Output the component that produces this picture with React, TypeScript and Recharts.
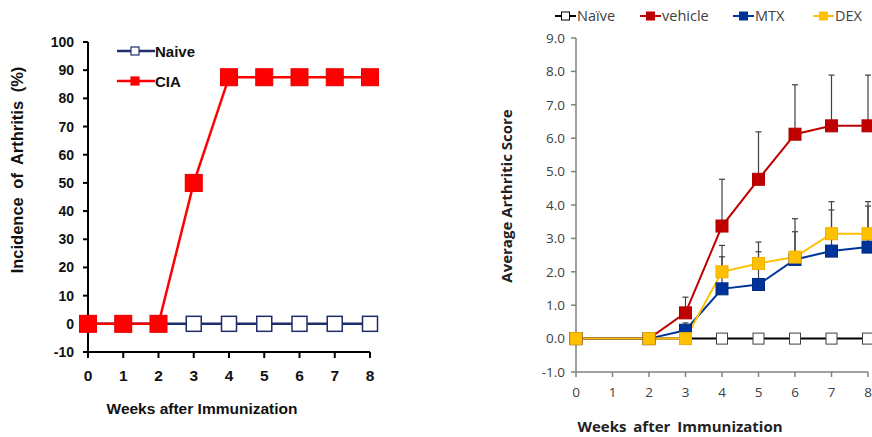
import React from "react";
import { LineChart, Line, XAxis, YAxis, ErrorBar, Legend, Label } from "recharts";

// left panel: incidence (%)
const weeks = [0, 1, 2, 3, 4, 5, 6, 7, 8];
const naiveIncidence = [0, 0, 0, 0, 0, 0, 0, 0, 0];
const ciaIncidence = [0, 0, 0, 50, 87.5, 87.5, 87.5, 87.5, 87.5];
const incidenceTicks = [-10, 0, 10, 20, 30, 40, 50, 60, 70, 80, 90, 100];

// right panel: average arthritic score (+ upper SEM)
const scoreWeeks = [0, 2, 3, 4, 5, 6, 7, 8];
const naiveScore = [0, 0, 0, 0, 0, 0, 0, 0];
const vehicleScore = [0, 0, 0.77, 3.37, 4.77, 6.12, 6.37, 6.37];
const vehicleSem = [0, 0, 0.47, 1.4, 1.42, 1.48, 1.52, 1.52];
const mtxScore = [0, 0, 0.25, 1.49, 1.62, 2.37, 2.62, 2.74];
const mtxSem = [0, 0, 0.22, 0.96, 0.98, 0.83, 1.23, 1.23];
const dexScore = [0, 0, 0, 2.0, 2.25, 2.44, 3.14, 3.14];
const dexSem = [0, 0, 0, 0.79, 0.64, 1.15, 0.96, 0.96];
const scoreTicks = [-1, 0, 1, 2, 3, 4, 5, 6, 7, 8, 9];

const incidenceData = weeks.map((w, i) => ({
  week: w,
  naive: naiveIncidence[i],
  cia: ciaIncidence[i],
}));

const scoreData = scoreWeeks.map((w, i) => ({
  week: w,
  naive: naiveScore[i],
  vehicle: vehicleScore[i],
  vehicleErr: [0, vehicleSem[i]],
  mtx: mtxScore[i],
  mtxErr: [0, mtxSem[i]],
  dex: dexScore[i],
  dexErr: [0, dexSem[i]],
}));

const ARIAL = "'Liberation Sans', Arial, sans-serif";
const CAL = "'Open Sans', sans-serif";

const square = (size: number, fill: string, stroke: string, sw = 1) =>
  (p: any) => (
    <rect
      key={`sq-${p.index}`}
      x={p.cx - size / 2}
      y={p.cy - size / 2}
      width={size}
      height={size}
      fill={fill}
      stroke={stroke}
      strokeWidth={sw}
    />
  );

const leftSeries = [
  { name: "Naive", color: "#1f2d6b", fill: "#fff" },
  { name: "CIA", color: "#ff0000", fill: "#ff0000" },
];

const rightSeries = [
  { name: "Naïve", color: "#000", fill: "#fff", w: 85 },
  { name: "vehicle", color: "#c00000", fill: "#c00000", w: 93 },
  { name: "MTX", color: "#003399", fill: "#003399", w: 80 },
  { name: "DEX", color: "#ffc000", fill: "#ffc000", w: 60 },
];

function LeftLegend() {
  return (
    <div style={{ fontFamily: ARIAL, fontWeight: "bold", fontSize: 15 }}>
      {leftSeries.map((s) => (
        <div key={s.name} style={{ display: "flex", alignItems: "center", height: 30 }}>
          <svg width={38} height={14}>
            <line x1={0} y1={7} x2={38} y2={7} stroke={s.color} strokeWidth={2.5} />
            <rect x={14} y={3} width={8} height={8} fill={s.fill} stroke={s.color} strokeWidth={1.2} />
          </svg>
          <span style={{ color: "#111" }}>{s.name}</span>
        </div>
      ))}
    </div>
  );
}

function RightLegend() {
  return (
    <div style={{ display: "flex", alignItems: "center", fontFamily: CAL, fontSize: 14.5, color: "#404040" }}>
      {rightSeries.map((s) => (
        <div key={s.name} style={{ display: "flex", alignItems: "center", width: s.w }}>
          <svg width={21} height={10}>
            <line x1={0} y1={5} x2={21} y2={5} stroke={s.color} strokeWidth={2} />
            <rect x={6.5} y={1} width={8} height={8} fill={s.fill} stroke={s.color} strokeWidth={1} />
          </svg>
          <span style={{ marginLeft: 1 }}>{s.name}</span>
        </div>
      ))}
    </div>
  );
}

const rotated = (x: number, y: number, text: string, font: string, size: number, color: string, ws = 0) =>
  () => (
    <text
      x={x}
      y={y}
      transform={`rotate(-90 ${x} ${y})`}
      textAnchor="middle"
      dominantBaseline="middle"
      fontFamily={font}
      fontWeight="bold"
      fontSize={size}
      fill={color}
      style={{ wordSpacing: ws }}
    >
      {text}
    </text>
  );

const flat = (x: number, y: number, text: string, font: string, size: number, color: string, ws = 0) =>
  () => (
    <text
      x={x}
      y={y}
      textAnchor="middle"
      dominantBaseline="middle"
      fontFamily={font}
      fontWeight="bold"
      fontSize={size}
      fill={color}
      style={{ wordSpacing: ws }}
    >
      {text}
    </text>
  );

export default function App() {
  return (
    <div style={{ position: "absolute", left: 0, top: 0, width: 872, height: 437, background: "#fff", overflow: "hidden" }}>
      <div style={{ position: "absolute", left: 0, top: 0 }}>
        <LineChart width={440} height={437} data={incidenceData} margin={{ top: 42, right: 70, bottom: 25, left: 0 }}>
          <XAxis
            dataKey="week"
            type="number"
            domain={[0, 8]}
            ticks={weeks}
            axisLine={{ stroke: "#000", strokeWidth: 2 }}
            tickLine={{ stroke: "#000", strokeWidth: 2 }}
            tickSize={6}
            tickMargin={12}
            height={60}
            tick={{ fontFamily: ARIAL, fontWeight: "bold", fontSize: 15.5, fill: "#111" }}
          >
            <Label content={flat(202, 410, "Weeks after Immunization", ARIAL, 15.5, "#111")} />
          </XAxis>
          <YAxis
            type="number"
            domain={[-10, 100]}
            ticks={incidenceTicks}
            width={88}
            axisLine={{ stroke: "#000", strokeWidth: 2 }}
            tickLine={{ stroke: "#000", strokeWidth: 2 }}
            tickSize={5}
            tickMargin={9}
            tick={{ fontFamily: ARIAL, fontWeight: "bold", fontSize: 14, fill: "#111" }}
          >
            <Label content={rotated(19, 170, "Incidence of Arthritis (%)", ARIAL, 16.5, "#111", 4)} />
          </YAxis>
          <Legend
            layout="horizontal"
            verticalAlign="middle"
            align="center"
            wrapperStyle={{ left: 117, top: 36, width: 120 }}
            content={() => <LeftLegend />}
          />
          <Line
            dataKey="naive"
            name="Naive"
            stroke="#1f2d6b"
            strokeWidth={2.5}
            dot={square(15, "#fff", "#1f2d6b", 1.5)}
            activeDot={false}
            isAnimationActive={false}
          />
          <Line
            dataKey="cia"
            name="CIA"
            stroke="#ff0000"
            strokeWidth={2.5}
            dot={square(17, "#ff0000", "#e80000", 1)}
            activeDot={false}
            isAnimationActive={false}
          />
        </LineChart>
      </div>

      <div style={{ position: "absolute", left: 440, top: 0 }}>
        <LineChart width={432} height={437} data={scoreData} margin={{ top: 38, right: 4, bottom: 0, left: 0 }}>
          <XAxis
            dataKey="week"
            type="number"
            domain={[0, 8]}
            ticks={weeks}
            axisLine={{ stroke: "#808080", strokeWidth: 1.5 }}
            tickLine={{ stroke: "#808080", strokeWidth: 1.5 }}
            tickSize={5}
            tickMargin={10}
            height={65}
            tick={{ fontFamily: CAL, fontSize: 13.5, fill: "#404040" }}
          >
            <Label content={flat(240, 428, "Weeks  after Immunization", CAL, 15, "#222", 3)} />
          </XAxis>
          <YAxis
            type="number"
            domain={[-1, 9]}
            ticks={scoreTicks}
            width={136}
            axisLine={{ stroke: "#808080", strokeWidth: 1.5 }}
            tickLine={{ stroke: "#808080", strokeWidth: 1.5 }}
            tickSize={5}
            tickMargin={6}
            tickFormatter={(v: number) => v.toFixed(1)}
            tick={{ fontFamily: CAL, fontSize: 13.5, fill: "#404040" }}
          >
            <Label content={rotated(68, 196, "Average Arthritic Score", CAL, 15, "#222")} />
          </YAxis>
          <Legend
            layout="horizontal"
            verticalAlign="middle"
            align="center"
            wrapperStyle={{ left: 115, top: 6, width: 340 }}
            content={() => <RightLegend />}
          />
          <Line
            dataKey="naive"
            name="Naïve"
            stroke="#000"
            strokeWidth={2}
            dot={square(11, "#fff", "#404040", 1)}
            activeDot={false}
            isAnimationActive={false}
          />
          <Line
            dataKey="vehicle"
            name="vehicle"
            stroke="#c00000"
            strokeWidth={2}
            dot={square(12, "#c00000", "#b00000", 1)}
            activeDot={false}
            isAnimationActive={false}
          >
            <ErrorBar dataKey="vehicleErr" width={3} stroke="#404040" strokeWidth={1.2} direction="y" />
          </Line>
          <Line
            dataKey="mtx"
            name="MTX"
            stroke="#003399"
            strokeWidth={2}
            dot={square(12, "#003399", "#002a80", 1)}
            activeDot={false}
            isAnimationActive={false}
          >
            <ErrorBar dataKey="mtxErr" width={3} stroke="#404040" strokeWidth={1.2} direction="y" />
          </Line>
          <Line
            dataKey="dex"
            name="DEX"
            stroke="#ffc000"
            strokeWidth={2}
            dot={square(12, "#ffc000", "#f0b000", 1)}
            activeDot={false}
            isAnimationActive={false}
          >
            <ErrorBar dataKey="dexErr" width={3} stroke="#404040" strokeWidth={1.2} direction="y" />
          </Line>
        </LineChart>
      </div>
    </div>
  );
}
